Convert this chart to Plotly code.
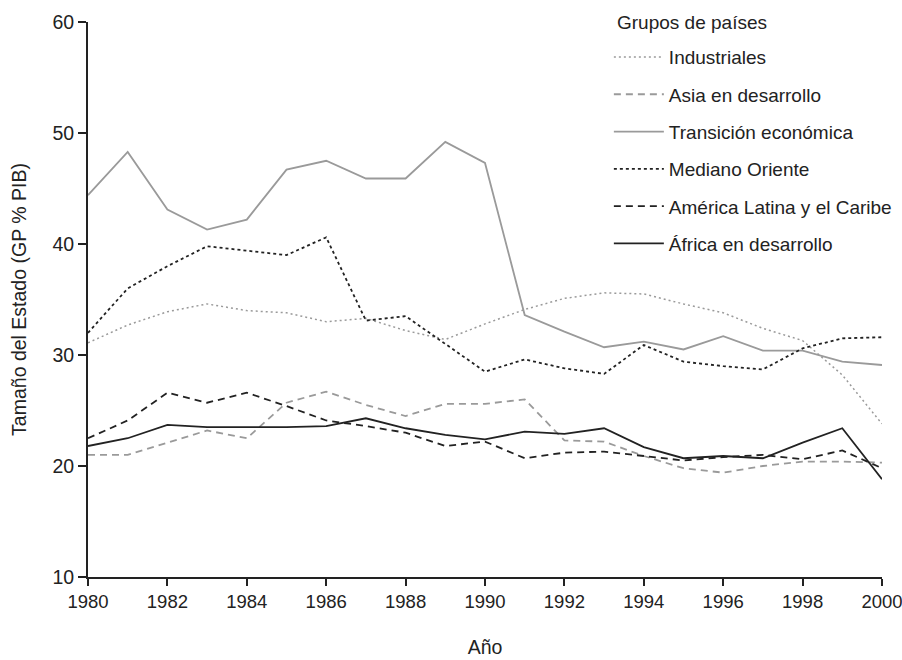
import plotly.graph_objects as go

years = list(range(1980, 2001))

industriales = [31.1, 32.7, 33.9, 34.6, 34.0, 33.8, 33.0, 33.3, 32.2, 31.4, 32.8,
                34.1, 35.1, 35.6, 35.5, 34.6, 33.8, 32.4, 31.3, 28.2, 23.8]
asia = [21.0, 21.0, 22.1, 23.2, 22.5, 25.7, 26.7, 25.5, 24.5, 25.6, 25.6,
        26.0, 22.3, 22.2, 20.9, 19.8, 19.4, 20.0, 20.4, 20.4, 20.3]
transicion = [44.4, 48.3, 43.1, 41.3, 42.2, 46.7, 47.5, 45.9, 45.9, 49.2, 47.3,
              33.6, 32.1, 30.7, 31.2, 30.5, 31.7, 30.4, 30.4, 29.4, 29.1]
mediano = [32.0, 36.0, 38.0, 39.8, 39.4, 39.0, 40.6, 33.1, 33.5, 31.0, 28.5,
           29.6, 28.8, 28.3, 30.9, 29.4, 29.0, 28.7, 30.6, 31.5, 31.6]
america = [22.5, 24.1, 26.6, 25.7, 26.6, 25.4, 24.1, 23.6, 23.0, 21.8, 22.2,
           20.7, 21.2, 21.3, 20.9, 20.5, 20.8, 21.0, 20.6, 21.4, 19.8]
africa = [21.8, 22.5, 23.7, 23.5, 23.5, 23.5, 23.6, 24.3, 23.4, 22.8, 22.4,
          23.1, 22.9, 23.4, 21.7, 20.7, 20.9, 20.7, 22.1, 23.4, 18.8]

names = ["Industriales", "Asia en desarrollo", "Transición económica",
         "Mediano Oriente", "América Latina y el Caribe", "África en desarrollo"]
series = [industriales, asia, transicion, mediano, america, africa]
legend_title = "Grupos de países"
styles = [
    dict(color="#9a9a9a", width=1.5, dash="2px,3px"),
    dict(color="#9a9a9a", width=1.8, dash="7px,5px"),
    dict(color="#9a9a9a", width=1.8, dash="solid"),
    dict(color="#222222", width=1.8, dash="3px,3px"),
    dict(color="#222222", width=1.8, dash="7px,5px"),
    dict(color="#222222", width=1.8, dash="solid"),
]

fig = go.Figure()
for i, (n, s, st) in enumerate(zip(names, series, styles)):
    fig.add_trace(go.Scatter(x=years, y=s, mode="lines", name=n, line=st,
                             legendgroup=f"g{i}"))

font = dict(family="Liberation Sans, Arial, sans-serif", size=19.5, color="#222222")
legend_font = dict(family="Liberation Sans, Arial, sans-serif", size=19, color="#222222")
xtick_font = dict(family="Liberation Sans, Arial, sans-serif", size=18.5, color="#222222")
fig.update_layout(
    width=902, height=660,
    margin=dict(l=88, r=20, t=22, b=83, autoexpand=False),
    paper_bgcolor="white", plot_bgcolor="white",
    font=font,
    showlegend=True,
    legend=dict(
        x=0.656, y=0.971, xanchor="left", yanchor="top",
        bgcolor="rgba(0,0,0,0)", tracegroupgap=9.6,
        font=legend_font, itemwidth=50,
    ),
    annotations=[dict(
        text=legend_title, xref="paper", yref="paper",
        x=(607 - 80) / 794, y=1.0, xanchor="left", yanchor="middle",
        showarrow=False, font=legend_font,
    )],
    xaxis=dict(
        range=[1980, 2000], tickmode="array", tickvals=list(range(1980, 2001, 2)),
        showline=True, linecolor="#222222", linewidth=2,
        ticks="outside", ticklen=7, tickwidth=1.5, tickcolor="#222222",
        showgrid=False, zeroline=False, automargin=False,
        ticklabeloverflow="allow", tickfont=xtick_font,
        title=dict(text="Año", standoff=29, font=font),
    ),
    yaxis=dict(
        range=[10, 60], tickmode="array", tickvals=[10, 20, 30, 40, 50, 60],
        showline=True, linecolor="#222222", linewidth=2,
        ticks="outside", ticklen=8, tickwidth=1.5, tickcolor="#222222",
        showgrid=False, zeroline=False, automargin=False,
        ticklabeloverflow="allow",
        title=dict(text="Tamaño del Estado (GP % PIB)", standoff=21, font=font),
    ),
)

fig.write_html("out.html",
               config={"displayModeBar": False},
               post_script="document.body.style.margin='0';"
                           "document.body.style.overflow='hidden';")
